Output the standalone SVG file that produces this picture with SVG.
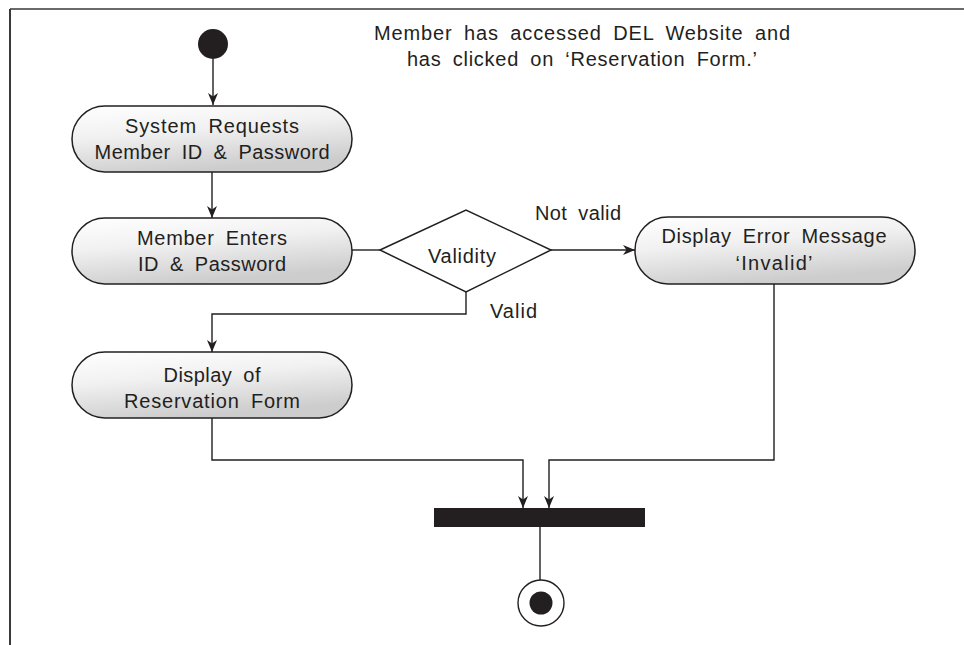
<svg xmlns="http://www.w3.org/2000/svg" width="964" height="645" viewBox="0 0 964 645">
  <defs>
    <linearGradient id="nodeFill" x1="0" y1="0" x2="0.35" y2="1">
      <stop offset="0" stop-color="#ffffff"/>
      <stop offset="0.45" stop-color="#f1f1f1"/>
      <stop offset="1" stop-color="#cdcdcd"/>
    </linearGradient>
    <marker id="arrow" viewBox="0 0 12 10" refX="12" refY="5" markerWidth="12" markerHeight="10" markerUnits="userSpaceOnUse" orient="auto">
      <path d="M0,0 L12,5 L0,10 L3.5,5 z" fill="#231f20"/>
    </marker>
  </defs>
  <style>
    .node { fill: url(#nodeFill); stroke: #231f20; stroke-width: 1.5; }
    .diamond { fill: #ffffff; stroke: #231f20; stroke-width: 1.5; }
    .conn { fill: none; stroke: #231f20; stroke-width: 1.4; }
    .arr { marker-end: url(#arrow); }
    text { font-family: "Liberation Sans", Arial, sans-serif; font-size: 20px; word-spacing: 5px; fill: #231f20; }
    .c { text-anchor: middle; }
  </style>
  <rect x="0" y="0" width="964" height="645" fill="#ffffff"/>
  <g id="frame">
    <line x1="10" y1="9" x2="964" y2="9" stroke="#6a6a6a" stroke-width="2"/>
    <line x1="10" y1="9" x2="10" y2="645" stroke="#3a3a3a" stroke-width="2"/>
  </g>

  <g id="note">
    <text class="c" x="582" y="40" textLength="416" lengthAdjust="spacing">Member has accessed DEL Website and</text>
    <text class="c" x="582" y="66" textLength="350" lengthAdjust="spacing">has clicked on ‘Reservation Form.’</text>
  </g>

  <g id="connectors">
    <path class="conn arr" d="M213,59 V105"/>
    <path class="conn arr" d="M212,172 V218"/>
    <path class="conn" d="M352,250 H380"/>
    <path class="conn arr" d="M551,250 H635"/>
    <path class="conn arr" d="M466,292 V314 H212 V352"/>
    <path class="conn arr" d="M212,418 V460 H523 V508"/>
    <path class="conn arr" d="M774,284 V460 H549 V508"/>
    <path class="conn" d="M540,527 V580"/>
  </g>

  <g id="initial">
    <circle cx="213" cy="44" r="15" fill="#231f20"/>
  </g>

  <g id="n1">
    <rect class="node" x="72" y="106" width="280" height="66" rx="33" ry="33"/>
    <text class="c" x="212" y="133" textLength="174" lengthAdjust="spacing">System Requests</text>
    <text class="c" x="212" y="159" textLength="235" lengthAdjust="spacing">Member ID &amp; Password</text>
  </g>

  <g id="n2">
    <rect class="node" x="72" y="218" width="280" height="66" rx="33" ry="33"/>
    <text class="c" x="212" y="245" textLength="150" lengthAdjust="spacing">Member Enters</text>
    <text class="c" x="212" y="271" textLength="148" lengthAdjust="spacing">ID &amp; Password</text>
  </g>

  <g id="validity">
    <polygon class="diamond" points="380,250 466,210 551,250 466,292"/>
    <text class="c" x="462" y="263" textLength="68" lengthAdjust="spacing">Validity</text>
  </g>

  <g id="labels">
    <text x="535" y="220" textLength="86" lengthAdjust="spacing">Not valid</text>
    <text x="490" y="318" textLength="47" lengthAdjust="spacing">Valid</text>
  </g>

  <g id="n3">
    <rect class="node" x="635" y="217" width="280" height="67" rx="33" ry="33"/>
    <text class="c" x="774" y="243" textLength="225" lengthAdjust="spacing">Display Error Message</text>
    <text class="c" x="774" y="270" textLength="77" lengthAdjust="spacing">‘Invalid’</text>
  </g>

  <g id="n4">
    <rect class="node" x="72" y="352" width="280" height="66" rx="33" ry="33"/>
    <text class="c" x="212" y="382" textLength="97" lengthAdjust="spacing">Display of</text>
    <text class="c" x="212" y="408" textLength="176" lengthAdjust="spacing">Reservation Form</text>
  </g>

  <g id="join">
    <rect x="434" y="508" width="211" height="19" fill="#231f20"/>
  </g>

  <g id="final">
    <circle cx="541" cy="603" r="23" fill="#ffffff" stroke="#231f20" stroke-width="1.4"/>
    <circle cx="541" cy="603" r="11.5" fill="#231f20"/>
  </g>
</svg>
